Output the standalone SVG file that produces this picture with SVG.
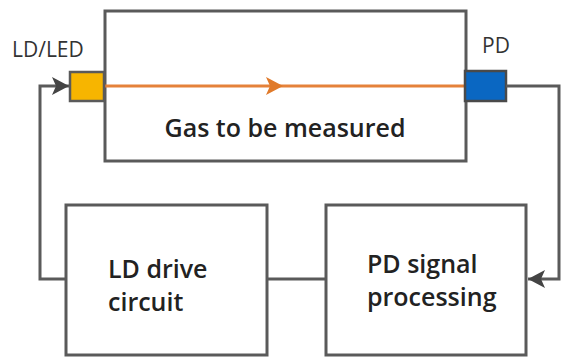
<svg xmlns="http://www.w3.org/2000/svg" width="563" height="361" viewBox="0 0 563 361">
<style>
.box{fill:#fff;stroke:#5a5a5a;stroke-width:3}
.wire{fill:none;stroke:#5a5a5a;stroke-width:3}
.lbl{font-family:"Open Sans","Noto Sans",sans-serif;fill:#222;font-weight:600;font-size:25px}
.small{font-family:"Open Sans","Noto Sans",sans-serif;fill:#333;font-size:21px}
</style>
<defs>
<marker id="ah" markerWidth="17" markerHeight="18" refX="17" refY="9" orient="auto" markerUnits="userSpaceOnUse">
<path d="M0,0 L17,9 L0,18 L4,9 Z" fill="#444"/>
</marker>
</defs>
<rect width="563" height="361" fill="#fff"/>
<g id="cell">
<rect class="box" x="105" y="11" width="361" height="150"/>
<text class="lbl" x="285" y="137" text-anchor="middle">Gas to be measured</text>
</g>
<g id="beam">
<line x1="104" y1="86" x2="464" y2="86" stroke="#e5823a" stroke-width="3"/>
<path d="M266,77 L283,86 L266,95 L270,86 Z" fill="#e07a2a"/>
</g>
<g id="ld">
<rect x="70" y="72" width="34" height="29" fill="#f7b500" stroke="#5a5a5a" stroke-width="2.5"/>
<text class="small" x="12" y="57">LD/LED</text>
</g>
<g id="pd">
<rect x="465" y="71" width="41" height="30" fill="#0a67c2" stroke="#4a4a4a" stroke-width="2.5"/>
<text class="small" x="482" y="53">PD</text>
</g>
<g id="lddrive">
<rect class="box" x="66" y="205" width="201" height="150"/>
<text class="lbl" x="108" y="278">LD drive</text>
<text class="lbl" x="108" y="311">circuit</text>
</g>
<g id="pdsignal">
<rect class="box" x="326" y="205" width="200" height="150"/>
<text class="lbl" x="367" y="273">PD signal</text>
<text class="lbl" x="367" y="306">processing</text>
</g>
<g id="connectors">
<polyline class="wire" points="506,86 559,86 559,279 528,279" marker-end="url(#ah)"/>
<line class="wire" x1="267" y1="279" x2="326" y2="279"/>
<polyline class="wire" points="66,279 40,279 40,86 69,86" marker-end="url(#ah)"/>
</g>
</svg>
